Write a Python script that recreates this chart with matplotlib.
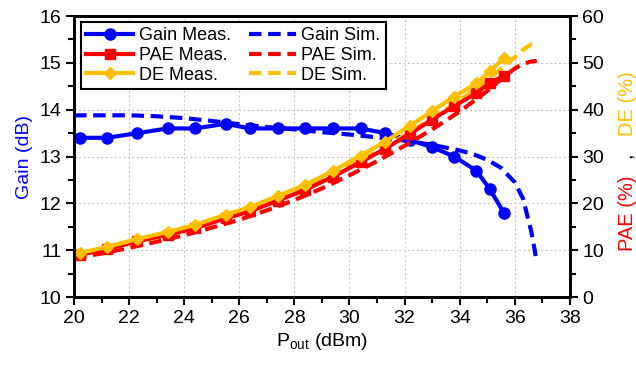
import matplotlib.pyplot as plt
from matplotlib.lines import Line2D
from matplotlib.ticker import MultipleLocator

plt.rcParams['font.family'] = 'Liberation Sans'
plt.rcParams['font.size'] = 14

# Measured data (common Pout sweep)
pout_meas = [20.2, 21.2, 22.3, 23.4, 24.4, 25.5, 26.4, 27.4, 28.4, 29.4,
             30.4, 31.3, 32.2, 33.0, 33.8, 34.6, 35.1, 35.6]
gain_meas = [13.4, 13.4, 13.5, 13.6, 13.6, 13.7, 13.6, 13.6, 13.6, 13.6,
             13.6, 13.5, 13.35, 13.2, 13.0, 12.7, 12.3, 11.8]
pae_meas = [9.0, 10.2, 11.9, 13.3, 14.7, 16.8, 18.3, 20.6, 22.9, 25.7,
            28.8, 31.7, 34.9, 37.9, 40.8, 43.5, 45.8, 47.2]
de_meas = [9.4, 10.7, 12.4, 13.9, 15.4, 17.6, 19.2, 21.6, 24.0, 26.9,
           30.2, 33.2, 36.6, 39.7, 42.8, 45.6, 48.2, 51.0]

# Simulated data
pout_sim_gain = [20.0, 21, 22, 23, 24, 25, 26, 27, 28, 29, 30, 31, 32, 33,
                 34, 34.5, 35, 35.5, 36, 36.3, 36.6, 36.8]
gain_sim = [13.88, 13.88, 13.88, 13.86, 13.82, 13.76, 13.69, 13.63, 13.58,
            13.52, 13.47, 13.41, 13.34, 13.25, 13.13, 13.05, 12.93, 12.76,
            12.45, 12.1, 11.4, 10.75]
pout_sim_eff = [20.0, 21, 22, 23, 24, 25, 26, 27, 28, 29, 30, 31, 32, 33,
                34, 35, 35.5, 36, 36.3, 36.6, 36.8]
pae_sim = [8.3, 9.3, 10.5, 11.8, 13.2, 14.8, 16.5, 18.5, 20.7, 23.2, 26.0,
           29.0, 32.3, 35.8, 39.6, 44.0, 46.5, 48.8, 49.8, 50.3, 50.4]
de_sim = [8.9, 10.0, 11.3, 12.7, 14.2, 16.0, 17.9, 20.0, 22.4, 25.0, 27.9,
          31.1, 34.5, 38.1, 42.0, 46.3, 48.7, 51.2, 52.8, 54.0, 54.3]

BLUE = '#0000ff'
RED = '#ff0000'
ORANGE = '#ffc000'

fig = plt.figure(figsize=(6.36, 3.65), dpi=100)
ax = fig.add_axes([0.1164, 0.1863, 0.7796, 0.7697])
ax2 = ax.twinx()

dash = (3.0, 1.6)
ax.plot(pout_sim_gain, gain_sim, color=BLUE, lw=3, ls=(0, dash))
ax.plot(pout_meas, gain_meas, color=BLUE, lw=3, marker='o', ms=8)

ax2.plot(pout_sim_eff, pae_sim, color=RED, lw=3, ls=(0, dash))
ax2.plot(pout_sim_eff, de_sim, color=ORANGE, lw=3, ls=(0, dash))
ax2.plot(pout_meas, pae_meas, color=RED, lw=3, marker='s', ms=7)
ax2.plot(pout_meas, de_meas, color=ORANGE, lw=3, marker='D', ms=6)

ax.set_xlim(20, 38)
ax.set_ylim(10, 16)
ax2.set_ylim(0, 60)
ax.xaxis.set_major_locator(MultipleLocator(2))
ax.xaxis.set_minor_locator(MultipleLocator(1))
ax.yaxis.set_major_locator(MultipleLocator(1))
ax.yaxis.set_minor_locator(MultipleLocator(0.5))
ax2.yaxis.set_major_locator(MultipleLocator(10))
ax2.yaxis.set_minor_locator(MultipleLocator(5))

ax.grid(True, which='major', color='#c8c8c8', ls=(0, (2, 2)), lw=0.8)
ax.set_axisbelow(True)

for a in (ax, ax2):
    for s in a.spines.values():
        s.set_linewidth(2)
        s.set_color('black')
    a.tick_params(which='major', length=6, width=1.5, labelsize=14, pad=3)
    a.tick_params(which='minor', length=4, width=1.5)

ax.set_xlabel(r'P$_{\mathregular{out}}$ (dBm)', fontsize=14, labelpad=3)
ax.set_ylabel('Gain (dB)', color=BLUE, fontsize=14, labelpad=5)

# Right axis label in three colours, stacked bottom to top
fig.canvas.draw()
renderer = fig.canvas.get_renderer()
xr = 0.986
y0 = 0.312
for txt, col in [('PAE (%)', RED), ('   ,   ', 'black'), ('DE (%)', ORANGE)]:
    t = fig.text(xr, y0, txt, color=col, rotation=90, fontsize=14.5,
                 ha='left', va='center', rotation_mode='anchor')
    bb = t.get_window_extent(renderer)
    y0 += bb.height / fig.bbox.height

handles = [
    Line2D([], [], color=BLUE, lw=3, marker='o', ms=8),
    Line2D([], [], color=RED, lw=3, marker='s', ms=7),
    Line2D([], [], color=ORANGE, lw=3, marker='D', ms=6),
    Line2D([], [], color=BLUE, lw=3, ls=(0, dash)),
    Line2D([], [], color=RED, lw=3, ls=(0, dash)),
    Line2D([], [], color=ORANGE, lw=3, ls=(0, dash)),
]
labels = ['Gain Meas.', 'PAE Meas.', 'DE Meas.',
          'Gain Sim.', 'PAE Sim.', 'DE Sim.']
leg = ax2.legend(handles, labels, ncol=2, loc='upper left',
                 bbox_to_anchor=(0.014, 0.979), borderaxespad=0,
                 fontsize=13, handlelength=2.6, handletextpad=0.3,
                 columnspacing=1.0, labelspacing=0.15, borderpad=0.3,
                 fancybox=False, framealpha=1, edgecolor='black')
leg.get_frame().set_linewidth(1.5)

fig.savefig('out.png', dpi=100)
